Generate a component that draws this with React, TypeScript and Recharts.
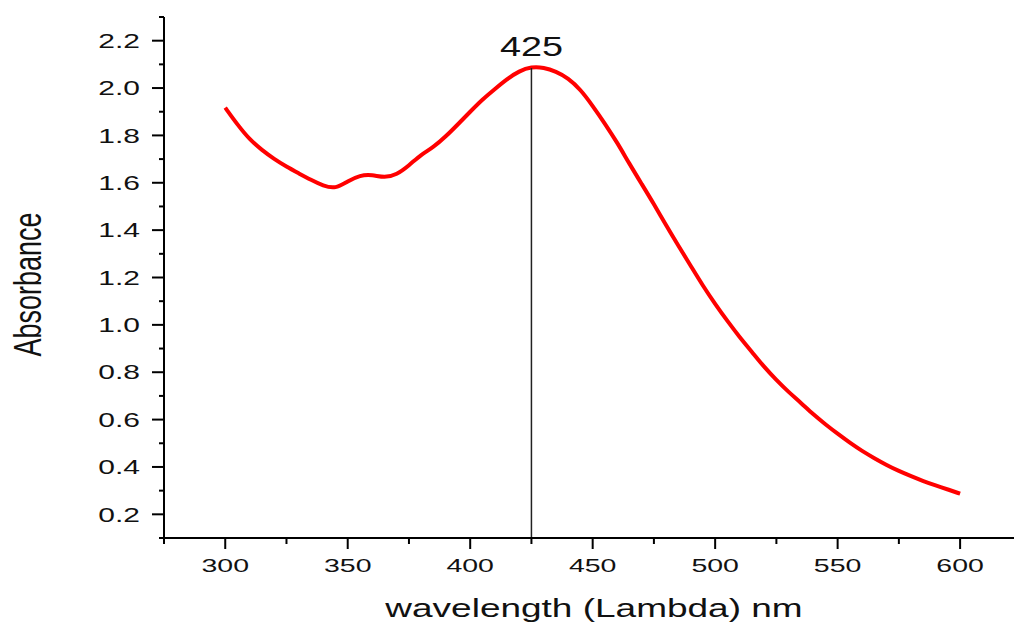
import { LineChart, Line, XAxis, YAxis, ReferenceLine } from "recharts";

const wavelength = [
  300, 305, 310, 315, 320, 325, 330, 335, 340, 345, 350, 355, 360, 365, 370, 375, 380, 385, 390, 395,
  400, 405, 410, 415, 420, 425, 430, 435, 440, 445, 450, 455, 460, 465, 470, 475, 480, 485, 490, 495,
  500, 505, 510, 515, 520, 525, 530, 535, 540, 545, 550, 555, 560, 565, 570, 575, 580, 585, 590, 595, 600,
];
const absorbance = [
  1.917, 1.845, 1.782, 1.738, 1.7, 1.668, 1.64, 1.612, 1.587, 1.574, 1.607, 1.632, 1.634, 1.621, 1.634, 1.673, 1.72, 1.75, 1.795, 1.847,
  1.9, 1.952, 1.995, 2.038, 2.072, 2.09, 2.087, 2.07, 2.042, 1.994, 1.925, 1.85, 1.77, 1.68, 1.595, 1.51, 1.42, 1.334, 1.25, 1.165,
  1.088, 1.016, 0.948, 0.886, 0.822, 0.767, 0.716, 0.671, 0.622, 0.58, 0.54, 0.502, 0.467, 0.437, 0.408, 0.383, 0.361, 0.34, 0.322, 0.305, 0.287,
];
const xTicks = [275, 300, 325, 350, 375, 400, 425, 450, 475, 500, 525, 550, 575, 600];
const yTicks = [
  0.1, 0.2, 0.3, 0.4, 0.5, 0.6, 0.7, 0.8, 0.9, 1.0, 1.1, 1.2, 1.3, 1.4, 1.5, 1.6, 1.7, 1.8, 1.9, 2.0, 2.1, 2.2, 2.3,
];
const peak = 425;
const peakValue = 2.085;

const data = wavelength.map((w, i) => ({ w, a: absorbance[i] }));

const font = '"Liberation Sans", Arial, sans-serif';
const SX = 1.5; // the source picture is stretched sideways

function XTick({ x, y, payload }: any) {
  const v = payload.value;
  const major = v % 50 === 0;
  return (
    <g>
      <line x1={x} y1={y} x2={x} y2={y + (major ? 11 : 6)} stroke="#000" strokeWidth={2} />
      {major && (
        <text transform={`translate(${x},${y + 34}) scale(${SX},1)`} textAnchor="middle" fontSize={19} fontFamily={font} fill="#111">
          {v}
        </text>
      )}
    </g>
  );
}

function YTick({ x, y, payload }: any) {
  const v = payload.value;
  const major = Math.round(v * 10) % 2 === 0;
  return (
    <g>
      <line x1={x - (major ? 12 : 5)} y1={y} x2={x} y2={y} stroke="#000" strokeWidth={2} />
      {major && (
        <text transform={`translate(${x - 24},${y}) scale(${SX},1)`} textAnchor="end" dy="0.36em" fontSize={20} fontFamily={font} fill="#111">
          {v.toFixed(1)}
        </text>
      )}
    </g>
  );
}

export default function App() {
  return (
    <div style={{ position: "fixed", left: 0, top: 0, width: 1014, height: 626, overflow: "hidden", background: "#fff" }}>
      <LineChart width={1014} height={626} data={data} margin={{ top: 17, right: 0, bottom: 0, left: 0 }}>
        <XAxis
          dataKey="w"
          type="number"
          domain={[275, 622]}
          ticks={xTicks}
          interval={0}
          allowDataOverflow
          height={88}
          tickSize={0}
          tickMargin={0}
          tickLine={false}
          axisLine={{ stroke: "#000", strokeWidth: 2 }}
          tick={<XTick />}
          label={{
            content: ({ viewBox }: any) => (
              <text
                transform={`translate(${viewBox.x + viewBox.width / 2 + 5},${viewBox.y + 79}) scale(1.48,1)`}
                textAnchor="middle"
                fontSize={25}
                fontFamily={font}
                fill="#111"
              >
                wavelength (Lambda) nm
              </text>
            ),
          }}
        />
        <YAxis
          type="number"
          domain={[0.1, 2.3]}
          ticks={yTicks}
          interval={0}
          allowDataOverflow
          width={164}
          tickSize={0}
          tickMargin={0}
          tickLine={false}
          axisLine={{ stroke: "#000", strokeWidth: 2 }}
          tick={<YTick />}
          label={{
            content: ({ viewBox }: any) => (
              <text
                transform={`translate(${viewBox.x + 27},${viewBox.y + viewBox.height / 2 + 7}) scale(1.45,1) rotate(-90)`}
                textAnchor="middle"
                dy="0.36em"
                fontSize={27}
                fontFamily={font}
                fill="#111"
              >
                Absorbance
              </text>
            ),
          }}
        />
        <Line dataKey="a" type="basis" stroke="#ff0000" strokeWidth={4} dot={false} isAnimationActive={false} />
        <ReferenceLine
          segment={[
            { x: peak, y: peakValue },
            { x: peak, y: 0.1 },
          ]}
          stroke="#222"
          strokeWidth={1.5}
          label={{
            content: ({ viewBox }: any) => (
              <text
                transform={`translate(${viewBox.x},${viewBox.y - 12}) scale(1.35,1)`}
                textAnchor="middle"
                fontSize={28}
                fontFamily={font}
                fill="#111"
              >
                {peak}
              </text>
            ),
          }}
        />
      </LineChart>
    </div>
  );
}
